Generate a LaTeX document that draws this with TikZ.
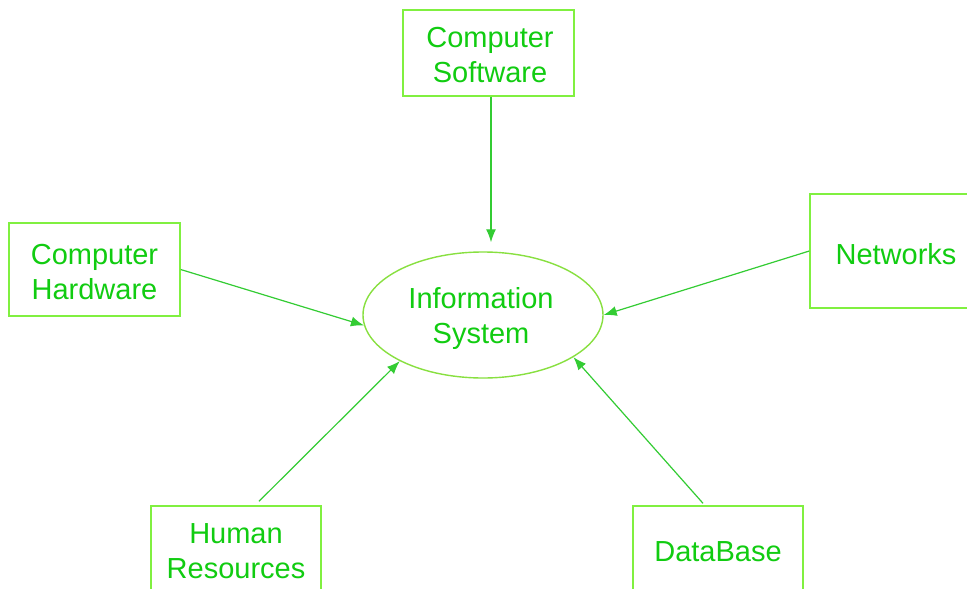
\documentclass[tikz,border=0pt]{standalone}
\usepackage{fontspec}
\setmainfont{Liberation Sans}
\usetikzlibrary{arrows.meta,shapes.geometric,calc}
\definecolor{boxg}{HTML}{80F040}
\definecolor{txtg}{HTML}{11CC11}
\definecolor{arrg}{HTML}{33CC33}
\definecolor{ellg}{HTML}{88E040}
\begin{document}
\begin{tikzpicture}[x=1pt,y=-1pt,
  blk/.style={draw=boxg,line width=1.4pt,inner sep=0pt},
  lbl/.style={text=txtg,align=center,inner sep=0pt,font=\fontsize{29}{35}\selectfont},
  conn/.style={draw=arrg,line width=1.2pt,-{Latex[length=13pt,width=10pt]}}]
\useasboundingbox (0,0) rectangle (967,589);
\clip (0,0) rectangle (967,589);
\fill[white] (0,0) rectangle (967,589);
\node[blk,minimum width=171pt,minimum height=86pt] (sw) at (488.5,53) {};
\node[lbl] (swt) at (490,55) {Computer\\Software};
\node[blk,minimum width=171pt,minimum height=93pt] (hw) at (94.5,269.5) {};
\node[lbl] (hwt) at (94.5,272) {Computer\\Hardware};
\node[blk,minimum width=170pt,minimum height=114pt] (net) at (895,251) {};
\node[lbl] (nett) at (896,254) {Networks};
\node[blk,minimum width=170pt,minimum height=90pt] (hr) at (236,551) {};
\node[lbl] (hrt) at (236,551) {Human\\Resources};
\node[blk,minimum width=170pt,minimum height=90pt] (db) at (718,551) {};
\node[lbl] (dbt) at (718,552) {DataBase};
\node[ellipse,draw=ellg,line width=1.4pt,inner sep=0pt,
  minimum width=240pt,minimum height=126pt] (is) at (483,315) {};
\node[lbl] (ist) at (481,318) {Information\\System};
\draw[conn] ([xshift=2.5pt]sw.south) -- ([xshift=2.5pt,yshift=9pt]is.north -| sw.south);
\draw[conn] (hw.east) -- (is.185);
\draw[conn] (net.west) -- (is.0.5);
\draw[conn] ([xshift=23pt]hr.north) ++(0,-4) coordinate (hrs) (hrs) -- (is.209);
\draw[conn] ([xshift=-15pt]db.north) ++(0,-2) coordinate (dbs) (dbs) -- (is.335);
\end{tikzpicture}
\end{document}
